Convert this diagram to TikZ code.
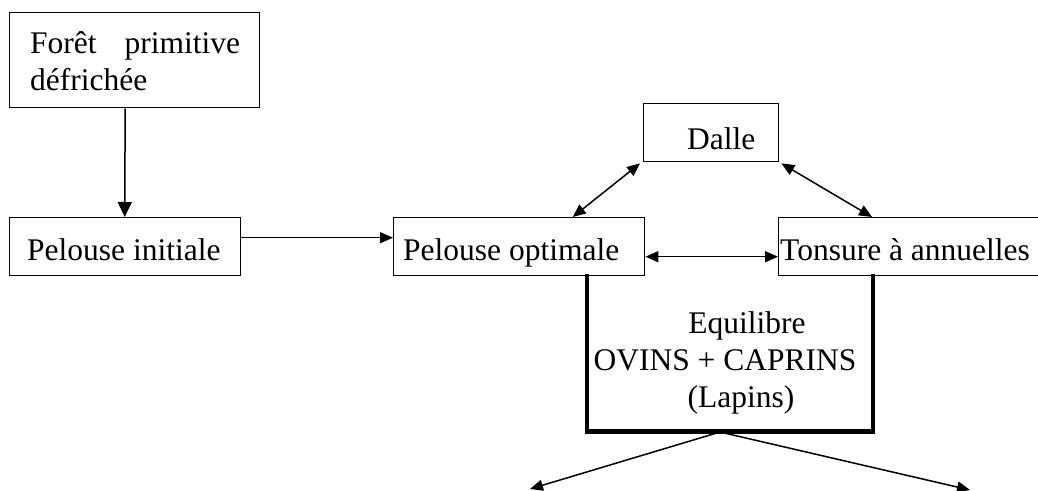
\documentclass[tikz,border=0pt]{standalone}
\usepackage{fontspec}
\setmainfont{Liberation Serif}
\usetikzlibrary{arrows.meta,calc}
\begin{document}
\begin{tikzpicture}[x=1pt,y=-1pt,
  font=\fontsize{31.5}{37}\selectfont,
  box/.style={draw,line width=1.4pt,rectangle,inner sep=0pt,anchor=north west},
  lbl/.style={inner sep=0pt,anchor=base west},
  conn/.style={line width=1.5pt},
  tip/.style={-{Triangle[length=13pt,width=11pt]}},
  dtip/.style={{Triangle[length=13pt,width=11pt]}-{Triangle[length=13pt,width=11pt]}},
  bigtip/.style={-{Triangle[length=15pt,width=14pt]}},
  thick box/.style={line width=4.5pt,line cap=rect,line join=miter}]
\clip (0,0) rectangle (1038,490);
\fill[white] (0,0) rectangle (1038,490);
% boxes
\node[box,minimum width=250pt,minimum height=95pt] (foret) at (9,12) {};
\node[box,minimum width=231pt,minimum height=58pt] (pelinit) at (9,217) {};
\node[box,minimum width=251pt,minimum height=58pt] (pelopt) at (393,217) {};
\node[box,minimum width=135pt,minimum height=58pt] (dalle) at (643,103) {};
\node[box,minimum width=290pt,minimum height=58pt] (tonsure) at (778,217) {};
% texts
\node[inner sep=0pt,anchor=base west,text width=210pt,align=justify] (tforet) at (30,53) {For\^et primitive d\'efrich\'ee};
\node[lbl] (tpelinit) at (27,260) {Pelouse initiale};
\node[lbl] (tpelopt) at (403,260) {Pelouse optimale};
\node[lbl] (tdalle) at (687,149) {Dalle};
\node[lbl] (ttonsure) at (780,260) {Tonsure \`a annuelles};
\node[inner sep=0pt,anchor=base,align=center] (tequi) at (725,407) {\hspace*{44pt}Equilibre\\OVINS + CAPRINS\\\hspace*{32pt}(Lapins)};
% connectors
\draw[conn,bigtip] ([xshift=-9.5pt]foret.south) -- ([xshift=-0.5pt]pelinit.north);
\draw[conn,tip] ([yshift=9pt]pelinit.east) -- ([yshift=9pt]pelopt.west);
\draw[conn,dtip] ([yshift=-10pt]pelopt.east) -- ([yshift=-10pt]tonsure.west);
\draw[conn,dtip] ([xshift=-3pt,yshift=-1pt]dalle.south west) -- ([xshift=53.5pt]pelopt.north);
\draw[conn,dtip] ([xshift=2pt,yshift=-1pt]dalle.south east) -- ([xshift=94pt]tonsure.north west);
% equilibre box
\draw[thick box] ([xshift=194pt]pelopt.south west) |- ([xshift=95pt,yshift=-155pt]tonsure.south west) -- ([xshift=95pt]tonsure.south west);
\coordinate (eqb) at (720,432);
\coordinate (endl) at (530,489);
\coordinate (endr) at (970,490);
\draw[conn,tip] (eqb) -- (endl);
\draw[conn,tip] (eqb) -- (endr);
\end{tikzpicture}
\end{document}
